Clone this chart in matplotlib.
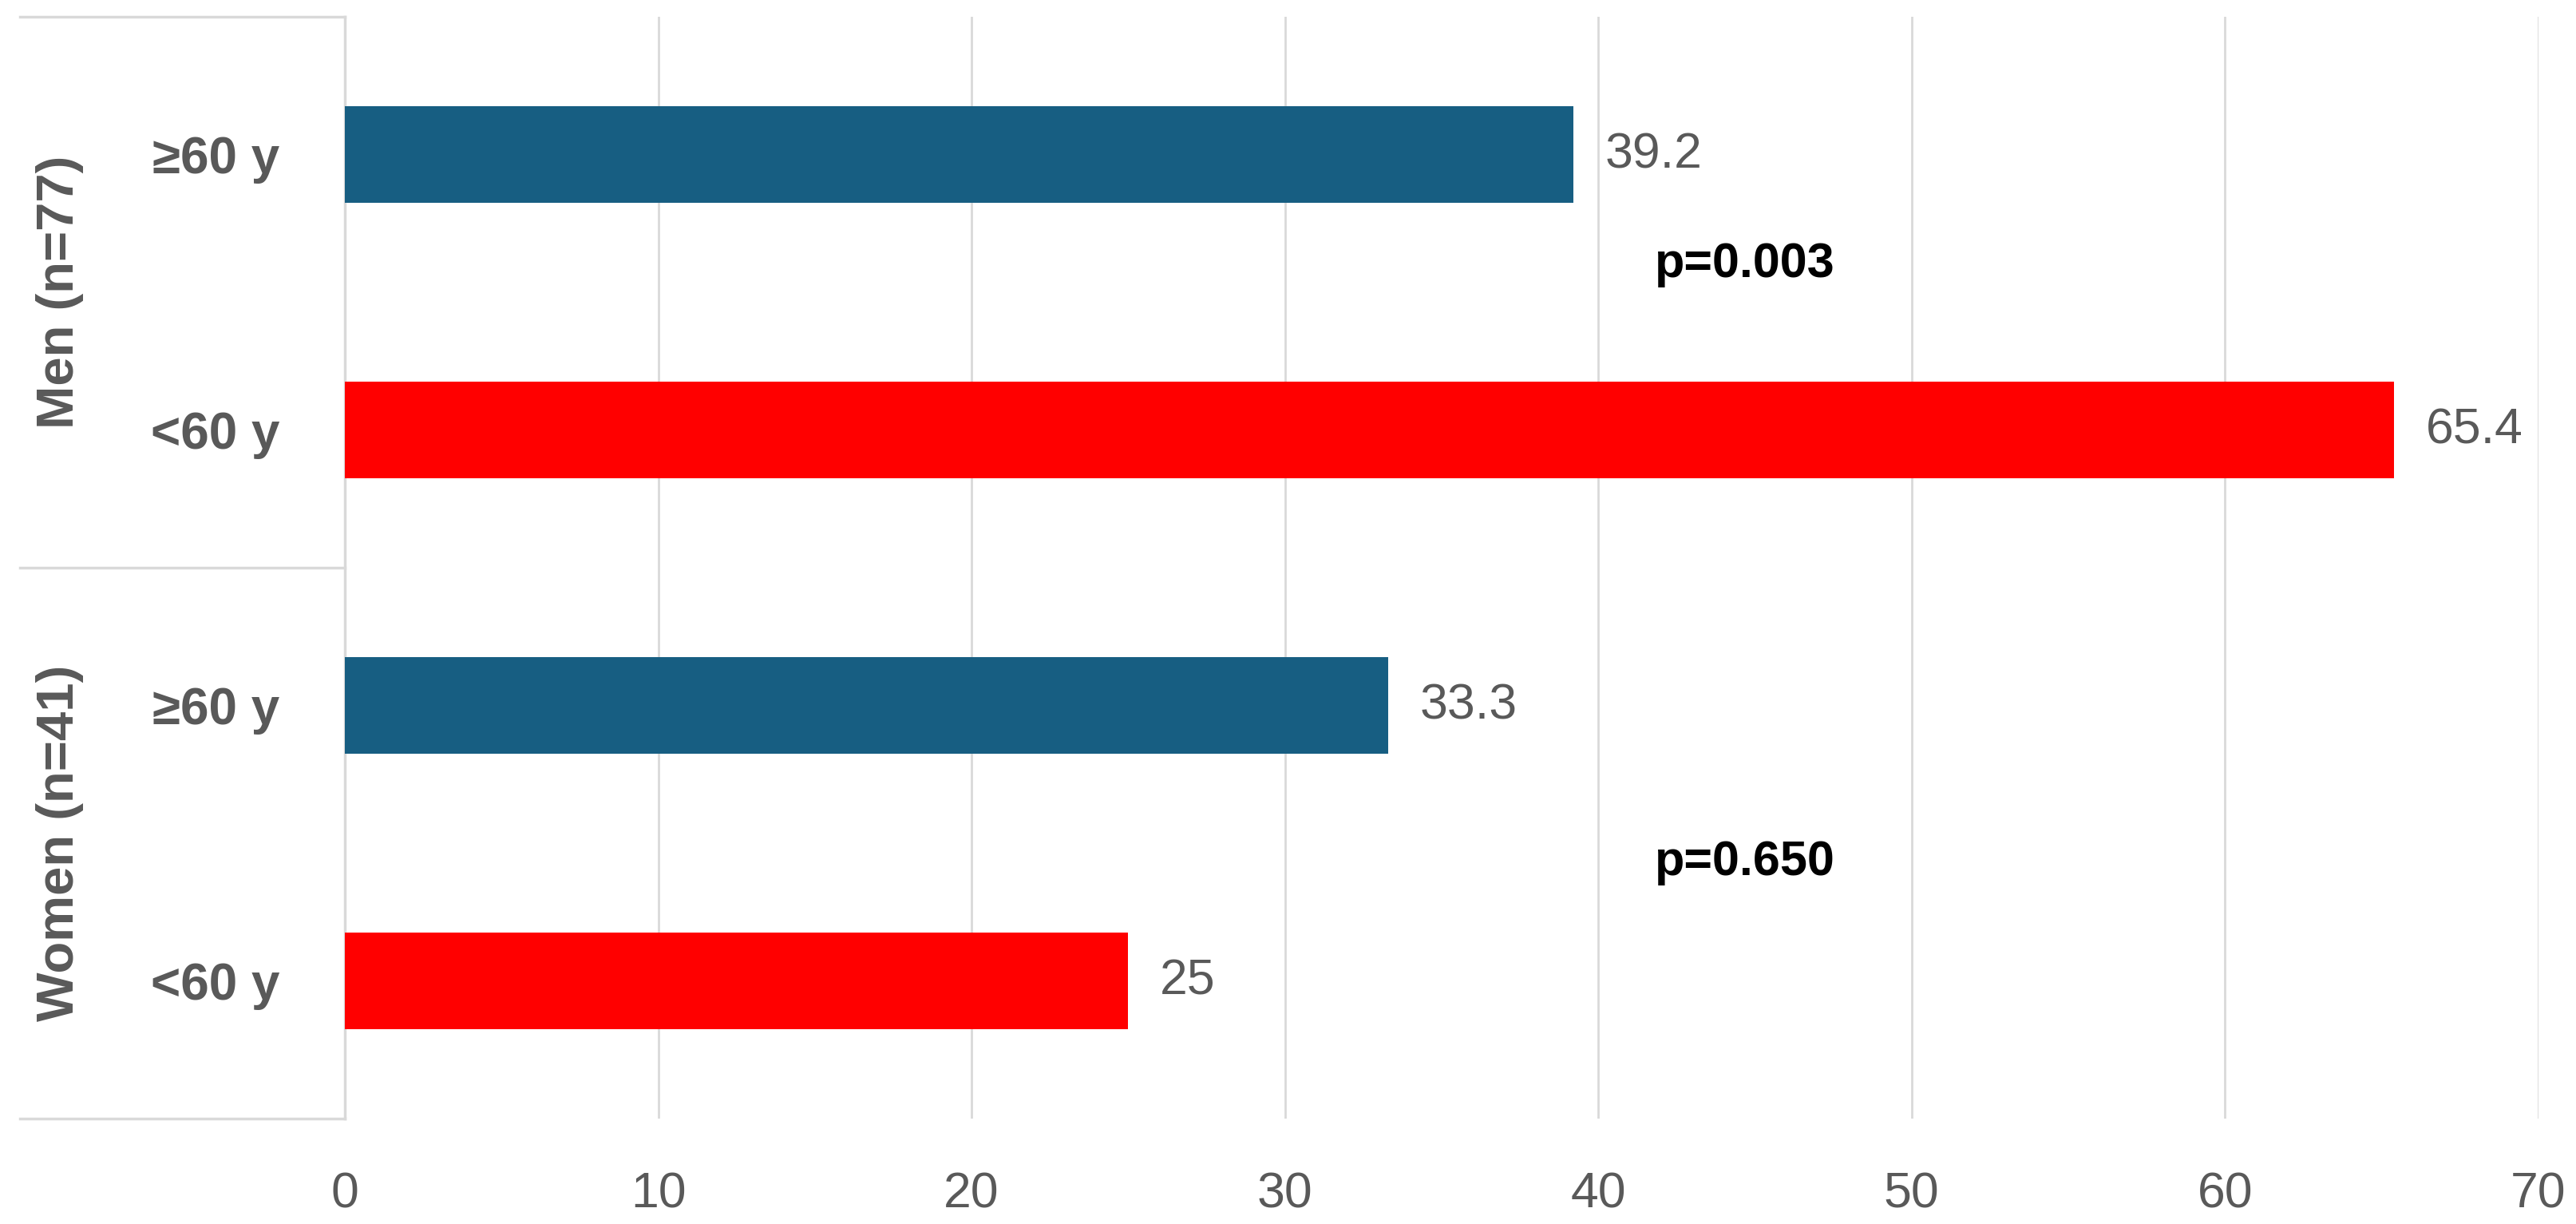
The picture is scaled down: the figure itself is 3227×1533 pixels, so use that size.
import matplotlib.pyplot as plt

# Data
groups = ['Men (n=77)', 'Women (n=41)']
age_labels = ['≥60 y', '<60 y', '≥60 y', '<60 y']
values = [39.2, 65.4, 33.3, 25]
value_text = ['39.2', '65.4', '33.3', '25']
p_values = ['p=0.003', 'p=0.650']
p_positions = [(41.8, 0.40), (41.8, 2.57)]
xticks = [0, 10, 20, 30, 40, 50, 60, 70]

blue = '#175e82'
red = '#ff0000'
grey_text = '#595959'
grid_col = '#d9d9d9'

plt.rcParams['font.family'] = ['Liberation Sans', 'DejaVu Sans']

fig = plt.figure(figsize=(32.27, 15.33), dpi=100)
ax = fig.add_axes([0.1339, 0.0861, 0.8515, 0.9002])

ypos = list(range(len(values)))
colors = [blue, red, blue, red]
ax.barh(ypos, values, height=0.35, color=colors, zorder=3)

for y, v, t in zip(ypos, values, value_text):
    ax.text(v + 1.0, y, t, va='center', ha='left', fontsize=45, color=grey_text)

for (px, py), t in zip(p_positions, p_values):
    ax.text(px, py, t, va='center', ha='left', fontsize=44, fontweight='bold', color='black')

ax.set_xlim(0, 70)
ax.set_ylim(3.5, -0.5)
ax.set_xticks(xticks)
ax.set_xticklabels([str(x) for x in xticks], fontsize=45, color=grey_text)
ax.set_yticks(ypos)
ax.set_yticklabels(age_labels, fontsize=46, fontweight='bold', color=grey_text)
ax.tick_params(axis='both', length=0)
ax.tick_params(axis='y', pad=59)
ax.tick_params(axis='x', pad=47)

ax.grid(axis='x', color=grid_col, linewidth=2, zorder=0)
for s in ax.spines.values():
    s.set_visible(False)

# category box lines on the left
tr = ax.get_yaxis_transform()
for yl in [-0.5, 1.5, 3.5]:
    ax.plot([-0.148, 0], [yl, yl], transform=tr, color=grid_col, linewidth=2.5, clip_on=False)
ax.plot([0, 0], [-0.5, 3.5], transform=tr, color=grid_col, linewidth=2.5, clip_on=False)

for i, g in enumerate(groups):
    ax.text(-0.130, 2 * i + 0.5, g, transform=tr, rotation=90, va='center', ha='center',
            fontsize=47, fontweight='bold', color=grey_text)

fig.savefig('out.png', dpi=100)
